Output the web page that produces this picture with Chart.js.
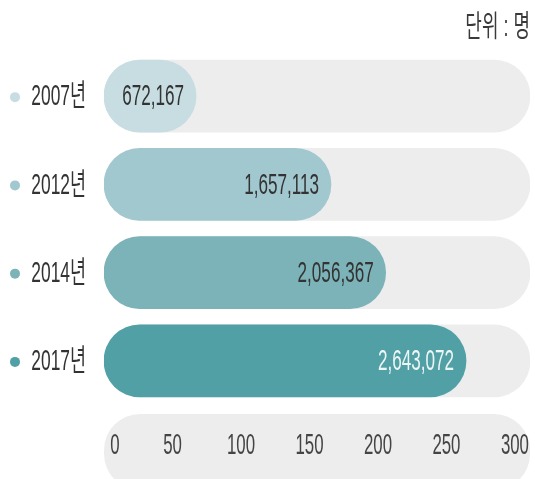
<!DOCTYPE html>
<html lang="ko">
<head>
    <meta charset="UTF-8">
    <title>연도별 인원</title>
    <script src="https://cdn.jsdelivr.net/npm/chart.js"></script>
    <style>
        html, body { margin: 0; padding: 0; background: #fff; }
        .wrap { width: 535px; height: 479px; }
    </style>
</head>
<body>
    <div class="wrap"><canvas id="barChart"></canvas></div>
    <script>
        // data (명)
        const years = ['2007년', '2012년', '2014년', '2017년'];
        const people = [672167, 1657113, 2056367, 2643072];
        const barColors = ['#c7dde2', '#a2c8cf', '#7cb3b8', '#50a0a5'];
        const tickValues = [0, 50, 100, 150, 200, 250, 300];
        const unitText = '단위 : 명';
        const axisMax = 311;

        // bars are drawn in units of 10,000 people
        const scaled = people.map(v => v / 10000);
        const track = years.map(() => axisMax);

        const FONT = '"Liberation Sans", "Noto Sans CJK KR", sans-serif';

        function narrowText(ctx, str, x, y, align, size, color, sx) {
            ctx.save();
            ctx.translate(x, y);
            ctx.scale(sx, 1);
            ctx.font = size + 'px ' + FONT;
            ctx.fillStyle = color;
            ctx.textAlign = align;
            ctx.textBaseline = 'middle';
            ctx.fillText(str, 0, 0);
            ctx.restore();
        }

        const decorPlugin = {
            id: 'decor',
            beforeDatasetsDraw(chart) {
                // rounded grey strip behind the x axis labels
                const ctx = chart.ctx;
                const xs = chart.scales.x;
                const top = chart.chartArea.bottom + 9;
                ctx.save();
                ctx.fillStyle = '#ededed';
                ctx.beginPath();
                ctx.roundRect(xs.left, top, xs.right - xs.left, 76, 36);
                ctx.fill();
                ctx.restore();
            },
            afterDraw(chart) {
                const ctx = chart.ctx;
                const xs = chart.scales.x;
                const ys = chart.scales.y;
                const area = chart.chartArea;

                narrowText(ctx, unitText, 530, 28, 'right', 30, '#3a3a3a', 0.6);

                years.forEach((label, i) => {
                    const y = ys.getPixelForTick(i) + 1;
                    ctx.save();
                    ctx.fillStyle = barColors[i];
                    ctx.beginPath();
                    ctx.arc(15, y, 5, 0, Math.PI * 2);
                    ctx.fill();
                    ctx.restore();
                    narrowText(ctx, label, 86, y, 'right', 30, '#333', 0.58);

                    const end = xs.getPixelForValue(scaled[i]);
                    const txt = people[i].toLocaleString('en-US');
                    const col = i === 3 ? '#eef5f5' : '#333';
                    narrowText(ctx, txt, end - 12, y, 'right', 30, col, 0.57);
                });

                const ty = area.bottom + 41;
                tickValues.forEach(v => {
                    const x = xs.getPixelForValue(v) + (v === 0 ? 11 : 0);
                    narrowText(ctx, String(v), x, ty, 'center', 29, '#444', 0.58);
                });
            }
        };

        new Chart(document.getElementById('barChart'), {
            type: 'bar',
            data: {
                labels: years,
                datasets: [
                    {
                        label: '인원 (만 명)',
                        data: scaled,
                        backgroundColor: barColors,
                        borderRadius: 36,
                        borderSkipped: false,
                        barThickness: 72,
                        grouped: false,
                        order: 1
                    },
                    {
                        label: 'track',
                        data: track,
                        backgroundColor: '#ededed',
                        borderRadius: 36,
                        borderSkipped: false,
                        barThickness: 72,
                        grouped: false,
                        order: 2
                    }
                ]
            },
            options: {
                indexAxis: 'y',
                responsive: true,
                maintainAspectRatio: false,
                animation: false,
                layout: { padding: { top: 52, right: 5, left: 0, bottom: 0 } },
                plugins: {
                    legend: { display: false },
                    tooltip: { enabled: false }
                },
                scales: {
                    x: {
                        min: 0,
                        max: axisMax,
                        grid: { display: false },
                        border: { display: false },
                        ticks: { display: false },
                        afterBuildTicks: axis => { axis.ticks = tickValues.map(v => ({ value: v })); },
                        afterFit: axis => { axis.height = 74; }
                    },
                    y: {
                        grid: { display: false },
                        border: { display: false },
                        ticks: { display: false },
                        afterFit: axis => { axis.width = 104; }
                    }
                }
            },
            plugins: [decorPlugin]
        });
    </script>
</body>
</html>
